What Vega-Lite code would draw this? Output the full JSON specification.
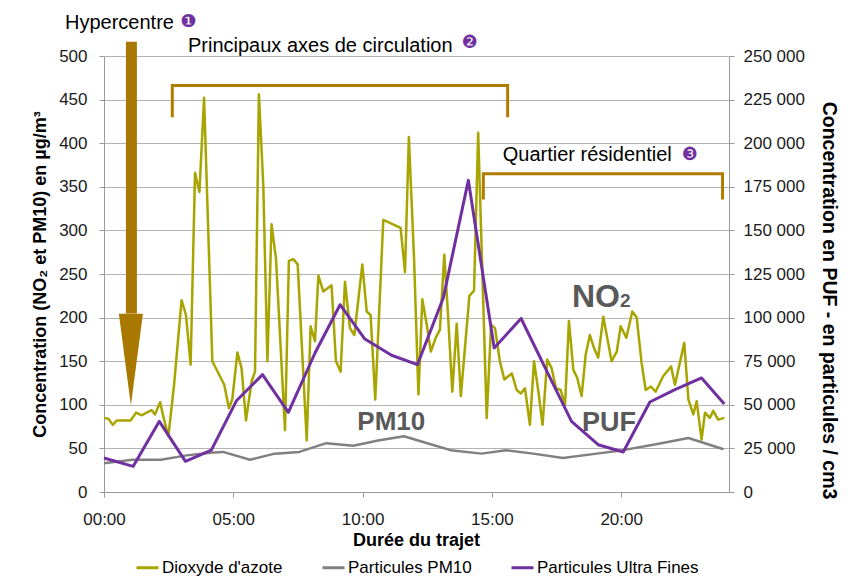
{
  "$schema": "https://vega.github.io/schema/vega-lite/v6.json",
  "width": 625,
  "height": 436,
  "autosize": {"type": "none"},
  "padding": {"left": 104, "top": 56, "right": 121, "bottom": 86},
  "background": "white",
  "config": {
    "font": "Liberation Sans",
    "view": {"stroke": null},
    "axis": {
      "labelFont": "Liberation Sans",
      "labelFontSize": 17,
      "labelColor": "#1a1a1a",
      "titleFont": "Liberation Sans",
      "titleFontSize": 18,
      "titleFontWeight": "bold",
      "titleColor": "#000000",
      "domainColor": "#9a9a9a",
      "tickColor": "#9a9a9a",
      "tickSize": 5,
      "gridColor": "#b3b3b3",
      "gridWidth": 1
    },
    "legend": {
      "orient": "none",
      "legendX": 31,
      "legendY": 499,
      "direction": "horizontal",
      "columns": 3,
      "padding": 0,
      "symbolType": "stroke",
      "symbolSize": 484,
      "symbolStrokeWidth": 3,
      "labelFont": "Liberation Sans",
      "labelFontSize": 17,
      "labelColor": "#000000",
      "labelOffset": 2,
      "labelLimit": 400,
      "columnPadding": 33
    }
  },
  "datasets": {
    "no2": [
      {"t":0.00,"v":85},{"t":0.17,"v":84},{"t":0.34,"v":77},{"t":0.49,"v":82},{"t":0.68,"v":82},{"t":1.03,"v":82},
      {"t":1.24,"v":91},{"t":1.46,"v":88},{"t":1.65,"v":91},{"t":1.84,"v":94},{"t":1.97,"v":89},{"t":2.17,"v":103},
      {"t":2.29,"v":87},{"t":2.49,"v":64},{"t":2.71,"v":123},{"t":3.00,"v":220},{"t":3.17,"v":203},{"t":3.35,"v":146},
      {"t":3.52,"v":366},{"t":3.69,"v":344},{"t":3.87,"v":452},{"t":4.19,"v":150},{"t":4.65,"v":123},{"t":4.83,"v":96},
      {"t":4.96,"v":106},{"t":5.16,"v":160},{"t":5.32,"v":142},{"t":5.49,"v":82},{"t":5.71,"v":127},{"t":5.84,"v":138},
      {"t":5.99,"v":456},{"t":6.16,"v":352},{"t":6.32,"v":150},{"t":6.48,"v":307},{"t":6.65,"v":268},{"t":7.00,"v":71},
      {"t":7.15,"v":265},{"t":7.32,"v":267},{"t":7.49,"v":261},{"t":7.84,"v":59},{"t":7.99,"v":190},{"t":8.16,"v":173},
      {"t":8.29,"v":248},{"t":8.48,"v":230},{"t":8.80,"v":237},{"t":8.97,"v":150},{"t":9.15,"v":138},{"t":9.32,"v":241},
      {"t":9.51,"v":188},{"t":9.68,"v":180},{"t":9.99,"v":261},{"t":10.16,"v":207},{"t":10.31,"v":203},{"t":10.49,"v":106},
      {"t":10.80,"v":312},{"t":11.47,"v":303},{"t":11.64,"v":252},{"t":11.79,"v":407},{"t":11.99,"v":268},{"t":12.16,"v":112},
      {"t":12.31,"v":221},{"t":12.48,"v":192},{"t":12.64,"v":161},{"t":12.83,"v":177},{"t":12.99,"v":186},{"t":13.16,"v":272},
      {"t":13.31,"v":200},{"t":13.47,"v":115},{"t":13.64,"v":193},{"t":13.80,"v":110},{"t":14.13,"v":225},{"t":14.31,"v":231},
      {"t":14.47,"v":412},{"t":14.80,"v":85},{"t":14.97,"v":192},{"t":15.12,"v":188},{"t":15.31,"v":150},{"t":15.48,"v":129},
      {"t":15.77,"v":136},{"t":15.96,"v":117},{"t":16.12,"v":113},{"t":16.28,"v":119},{"t":16.47,"v":77},{"t":16.63,"v":150},
      {"t":16.80,"v":115},{"t":16.96,"v":77},{"t":17.14,"v":152},{"t":17.31,"v":142},{"t":17.48,"v":119},{"t":17.66,"v":117},
      {"t":17.83,"v":100},{"t":17.98,"v":196},{"t":18.15,"v":140},{"t":18.30,"v":131},{"t":18.47,"v":110},{"t":18.63,"v":158},
      {"t":18.79,"v":180},{"t":18.95,"v":165},{"t":19.11,"v":154},{"t":19.31,"v":201},{"t":19.46,"v":177},{"t":19.63,"v":150},
      {"t":19.83,"v":161},{"t":19.98,"v":190},{"t":20.20,"v":177},{"t":20.43,"v":207},{"t":20.60,"v":200},{"t":20.79,"v":148},
      {"t":20.95,"v":117},{"t":21.15,"v":121},{"t":21.33,"v":115},{"t":21.63,"v":133},{"t":21.93,"v":144},{"t":22.08,"v":123},
      {"t":22.44,"v":171},{"t":22.60,"v":106},{"t":22.79,"v":89},{"t":22.92,"v":104},{"t":23.11,"v":60},{"t":23.24,"v":91},
      {"t":23.43,"v":85},{"t":23.56,"v":93},{"t":23.75,"v":83},{"t":23.99,"v":85}
    ],
    "pm10": [
      {"t":0,"v":33},{"t":1.1,"v":37},{"t":2.2,"v":37},{"t":3.2,"v":42},{"t":4.1,"v":45},{"t":4.6,"v":46},
      {"t":5.65,"v":37},{"t":6.6,"v":44},{"t":7.55,"v":46},{"t":8.6,"v":56},{"t":9.64,"v":53},{"t":10.6,"v":59},
      {"t":11.6,"v":64},{"t":12.6,"v":55},{"t":13.4,"v":48},{"t":14.6,"v":44},{"t":15.55,"v":48},{"t":16.6,"v":44},
      {"t":17.75,"v":39},{"t":19.05,"v":44},{"t":20.07,"v":48},{"t":21.4,"v":55},{"t":22.6,"v":62},{"t":23.96,"v":49}
    ],
    "puf": [
      {"t":0,"v":19500},{"t":1.13,"v":14700},{"t":2.14,"v":40500},{"t":3.15,"v":17600},{"t":4.15,"v":24000},
      {"t":5.13,"v":52500},{"t":6.13,"v":67300},{"t":7.13,"v":45700},{"t":8.16,"v":79700},{"t":9.13,"v":107400},
      {"t":10.09,"v":87700},{"t":11.12,"v":78400},{"t":12.12,"v":73000},{"t":13.12,"v":111200},{"t":14.09,"v":178700},
      {"t":15.09,"v":82600},{"t":16.13,"v":99500},{"t":17.1,"v":70000},{"t":18.08,"v":40500},{"t":19.11,"v":27100},
      {"t":20.08,"v":22900},{"t":21.11,"v":51600},{"t":22.08,"v":58700},{"t":23.11,"v":65400},{"t":23.99,"v":50500}
    ],
    "brackets": [
      {"b":"2","i":0,"t":2.641,"v":429.8},{"b":"2","i":1,"t":2.641,"v":466.2},{"b":"2","i":2,"t":15.61,"v":466.2},{"b":"2","i":3,"t":15.61,"v":429.8},
      {"b":"3","i":0,"t":14.67,"v":335.4},{"b":"3","i":1,"t":14.67,"v":364.9},{"b":"3","i":2,"t":23.92,"v":364.9},{"b":"3","i":3,"t":23.92,"v":335.4}
    ],
    "arrow": [{"t":1.06,"v":516.4,"v2":204.6}],
    "arrowhead": [{"t":1.04,"v":151.9}],
    "texts": [
      {"t":-1.508,"v":531.3,"label":"Hypercentre"},
      {"t":3.248,"v":504.9,"label":"Principaux axes de circulation"},
      {"t":15.42,"v":379.3,"label":"Quartier résidentiel"}
    ],
    "nums": [
      {"t":3.268,"v":538.8,"label":"❶"},
      {"t":14.15,"v":514.4,"label":"❷"},
      {"t":22.66,"v":387,"label":"❸"}
    ],
    "bigNO": [{"t":19.95,"v":211.8,"label":"NO"}],
    "big2": [{"t":19.95,"v":211.8,"label":"2"}],
    "bigPM": [{"t":11.11,"v":70.7,"label":"PM10"}],
    "bigPUF": [{"t":19.53,"v":69.5,"label":"PUF"}]
  },
  "layer": [
    {
      "data": {"name": "no2"},
      "mark": {"type": "line", "strokeWidth": 2.5, "strokeJoin": "round"},
      "encoding": {
        "x": {
          "field": "t", "type": "quantitative",
          "scale": {"domain": [0, 24.17], "nice": false, "zero": false},
          "axis": {
            "values": [0, 5, 10, 15, 20],
            "labelExpr": "(datum.value < 10 ? '0' : '') + datum.value + ':00'",
            "labelFlush": false,
            "title": "Durée du trajet",
            "grid": false,
            "labelPadding": 14,
            "titleX": 312,
            "titleY": 48,
            "titleBaseline": "middle",
            "titleAnchor": "middle"
          }
        },
        "y": {
          "field": "v", "type": "quantitative",
          "scale": {"domain": [0, 500], "nice": false},
          "axis": {
            "orient": "left",
            "values": [0, 50, 100, 150, 200, 250, 300, 350, 400, 450, 500],
            "title": "Concentration (NO₂ et PM10) en µg/m³",
            "grid": true,
            "labelPadding": 12,
            "titleAngle": -90,
            "titleX": -64,
            "titleY": 218,
            "titleBaseline": "middle",
            "titleAlign": "center"
          }
        },
        "color": {
          "datum": "Dioxyde d'azote", "type": "nominal",
          "scale": {"domain": ["Dioxyde d'azote", "Particules PM10", "Particules Ultra Fines"], "range": ["#A8A400", "#808080", "#7030A0"]},
          "legend": {"title": null}
        }
      }
    },
    {
      "data": {"name": "bigNO"},
      "mark": {"type": "text", "align": "right", "baseline": "alphabetic", "fontSize": 32, "fontWeight": "bold", "font": "Liberation Sans", "color": "#595959"},
      "encoding": {
        "x": {"field": "t", "type": "quantitative", "scale": {"domain": [0, 24.17], "nice": false, "zero": false}, "axis": null},
        "y": {"field": "v", "type": "quantitative", "scale": {"domain": [0, 500], "nice": false}, "axis": null},
        "text": {"field": "label"}
      }
    },
    {
      "data": {"name": "big2"},
      "mark": {"type": "text", "align": "left", "baseline": "alphabetic", "fontSize": 19, "fontWeight": "bold", "font": "Liberation Sans", "color": "#595959"},
      "encoding": {
        "x": {"field": "t", "type": "quantitative", "scale": {"domain": [0, 24.17], "nice": false, "zero": false}, "axis": null},
        "y": {"field": "v", "type": "quantitative", "scale": {"domain": [0, 500], "nice": false}, "axis": null},
        "text": {"field": "label"}
      }
    },
    {
      "data": {"name": "bigPM"},
      "mark": {"type": "text", "align": "center", "baseline": "alphabetic", "fontSize": 26, "fontWeight": "bold", "font": "Liberation Sans", "color": "#595959"},
      "encoding": {
        "x": {"field": "t", "type": "quantitative", "scale": {"domain": [0, 24.17], "nice": false, "zero": false}, "axis": null},
        "y": {"field": "v", "type": "quantitative", "scale": {"domain": [0, 500], "nice": false}, "axis": null},
        "text": {"field": "label"}
      }
    },
    {
      "data": {"name": "bigPUF"},
      "mark": {"type": "text", "align": "center", "baseline": "alphabetic", "fontSize": 27, "fontWeight": "bold", "font": "Liberation Sans", "color": "#595959"},
      "encoding": {
        "x": {"field": "t", "type": "quantitative", "scale": {"domain": [0, 24.17], "nice": false, "zero": false}, "axis": null},
        "y": {"field": "v", "type": "quantitative", "scale": {"domain": [0, 500], "nice": false}, "axis": null},
        "text": {"field": "label"}
      }
    },
    {
      "data": {"name": "pm10"},
      "mark": {"type": "line", "strokeWidth": 2.5, "strokeJoin": "round"},
      "encoding": {
        "x": {"field": "t", "type": "quantitative", "scale": {"domain": [0, 24.17], "nice": false, "zero": false}, "axis": null},
        "y": {"field": "v", "type": "quantitative", "scale": {"domain": [0, 500], "nice": false}, "axis": null},
        "color": {"datum": "Particules PM10", "type": "nominal"}
      }
    },
    {
      "data": {"name": "brackets"},
      "mark": {"type": "line", "strokeWidth": 3, "strokeJoin": "miter", "strokeCap": "butt", "color": "#B07C00"},
      "encoding": {
        "x": {"field": "t", "type": "quantitative", "scale": {"domain": [0, 24.17], "nice": false, "zero": false}, "axis": null},
        "y": {"field": "v", "type": "quantitative", "scale": {"domain": [0, 500], "nice": false}, "axis": null},
        "detail": {"field": "b"},
        "order": {"field": "i"}
      }
    },
    {
      "data": {"name": "arrow"},
      "mark": {"type": "rule", "strokeWidth": 11, "strokeCap": "butt", "color": "#A87800"},
      "encoding": {
        "x": {"field": "t", "type": "quantitative", "scale": {"domain": [0, 24.17], "nice": false, "zero": false}, "axis": null},
        "y": {"field": "v", "type": "quantitative", "scale": {"domain": [0, 500], "nice": false}, "axis": null},
        "y2": {"field": "v2"}
      }
    },
    {
      "data": {"name": "arrowhead"},
      "mark": {"type": "point", "shape": "M-0.262,-1L0.262,-1L0,1Z", "size": 8409, "filled": true, "color": "#A87800", "opacity": 1, "strokeWidth": 0},
      "encoding": {
        "x": {"field": "t", "type": "quantitative", "scale": {"domain": [0, 24.17], "nice": false, "zero": false}, "axis": null},
        "y": {"field": "v", "type": "quantitative", "scale": {"domain": [0, 500], "nice": false}, "axis": null}
      }
    },
    {
      "data": {"name": "texts"},
      "mark": {"type": "text", "align": "left", "baseline": "alphabetic", "fontSize": 20, "font": "Liberation Sans", "color": "#000000"},
      "encoding": {
        "x": {"field": "t", "type": "quantitative", "scale": {"domain": [0, 24.17], "nice": false, "zero": false}, "axis": null},
        "y": {"field": "v", "type": "quantitative", "scale": {"domain": [0, 500], "nice": false}, "axis": null},
        "text": {"field": "label"}
      }
    },
    {
      "data": {"name": "nums"},
      "mark": {"type": "text", "align": "center", "baseline": "middle", "fontSize": 18, "font": "DejaVu Sans", "color": "#7030A0"},
      "encoding": {
        "x": {"field": "t", "type": "quantitative", "scale": {"domain": [0, 24.17], "nice": false, "zero": false}, "axis": null},
        "y": {"field": "v", "type": "quantitative", "scale": {"domain": [0, 500], "nice": false}, "axis": null},
        "text": {"field": "label"}
      }
    },
    {
      "data": {"name": "puf"},
      "mark": {"type": "line", "strokeWidth": 3, "strokeJoin": "round"},
      "encoding": {
        "x": {"field": "t", "type": "quantitative", "scale": {"domain": [0, 24.17], "nice": false, "zero": false}, "axis": null},
        "y": {
          "field": "v", "type": "quantitative",
          "scale": {"domain": [0, 250000], "nice": false},
          "axis": {
            "orient": "right",
            "values": [0, 25000, 50000, 75000, 100000, 125000, 150000, 175000, 200000, 225000, 250000],
            "labelExpr": "replace(format(datum.value, ','), ',', ' ')",
            "title": "Concentration en PUF - en particules / cm3",
            "titleFontSize": 19.5,
            "grid": false,
            "labelPadding": 9,
            "titleAngle": 90,
            "titleX": 99,
            "titleY": 244,
            "titleBaseline": "middle",
            "titleAlign": "center"
          }
        },
        "color": {"datum": "Particules Ultra Fines", "type": "nominal"}
      }
    }
  ],
  "resolve": {"scale": {"x": "independent", "y": "independent"}}
}
